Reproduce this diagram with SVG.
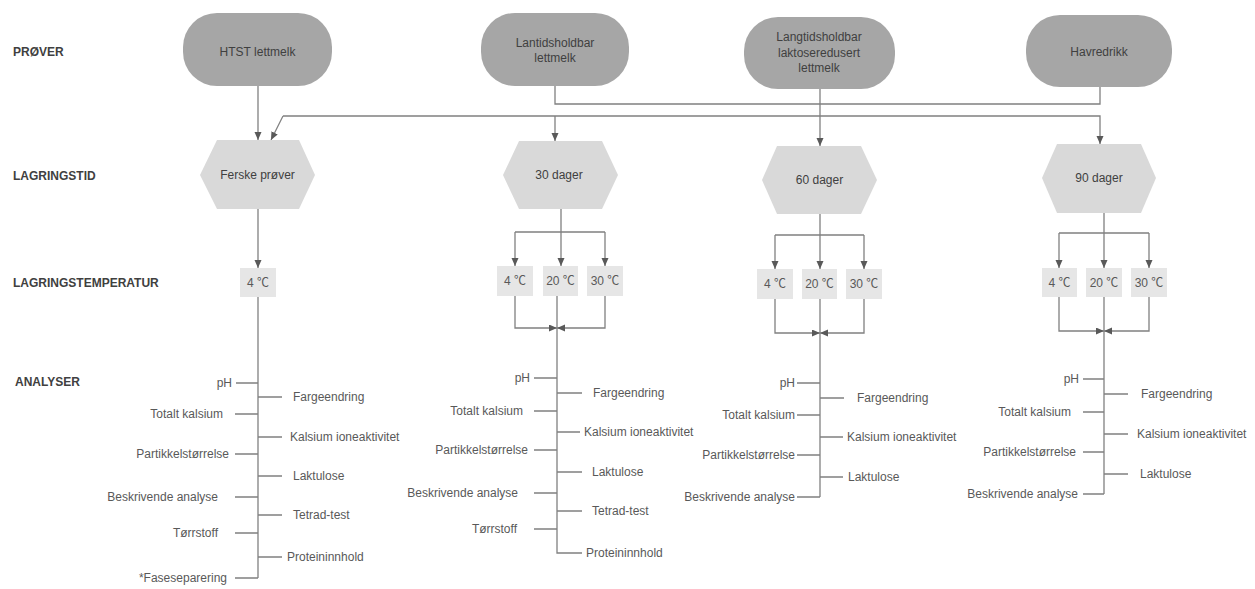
<svg xmlns="http://www.w3.org/2000/svg" width="1255" height="589" viewBox="0 0 1255 589">
<style>
text{font-family:"Liberation Sans",Arial,"Noto Sans CJK SC",sans-serif;font-size:12px}
.lbl{font-weight:bold;fill:#404040}
.pill{fill:#a6a6a6}
.hex{fill:#d9d9d9}
.box{fill:#e6e6e6}
.nt{fill:#404040;text-anchor:middle}
.tt{fill:#595959;text-anchor:middle}
.an{fill:#595959}
.r{text-anchor:end}
.c{fill:none;stroke:#808080;stroke-width:1.3}
.a{marker-end:url(#ah)}
</style>
<defs>
<marker id="ah" markerUnits="userSpaceOnUse" markerWidth="9" markerHeight="8" refX="8" refY="3.5" orient="auto">
<path d="M0,0 L8,3.5 L0,7 z" fill="#595959"/>
</marker>
</defs>
<rect width="1255" height="589" fill="#ffffff"/>

<g id="labels">
<text class="lbl" x="13" y="56">PRØVER</text>
<text class="lbl" x="13" y="180">LAGRINGSTID</text>
<text class="lbl" x="13" y="287">LAGRINGSTEMPERATUR</text>
<text class="lbl" x="15" y="386">ANALYSER</text>
</g>

<g id="connectors">
<path class="c a" d="M258,86 V140"/>
<path class="c a" d="M283,116 H1100 V144"/>
<path class="c a" d="M283,116 L271,140"/>
<path class="c" d="M555,86 V104 H1100 V87"/>
<path class="c a" d="M555,116 V141"/>
<path class="c a" d="M820,89 V146"/>
<path class="c a" d="M258,209 V268"/>
<path class="c" d="M258,297 V578"/>
<path class="c" d="M561,209 V232 M515,232 H605"/>
<path class="c a" d="M515,232 V266"/>
<path class="c a" d="M561,232 V266"/>
<path class="c a" d="M605,232 V266"/>
<path class="c a" d="M515,296 V328 H557"/>
<path class="c a" d="M605,296 V328 H557"/>
<path class="c" d="M557,296 V553 H582"/>
<path class="c" d="M820,214 V235 M775,235 H864"/>
<path class="c a" d="M775,235 V269"/>
<path class="c a" d="M820,235 V269"/>
<path class="c a" d="M864,235 V269"/>
<path class="c a" d="M775,299 V333 H820"/>
<path class="c a" d="M864,299 V333 H820"/>
<path class="c" d="M820,299 V497"/>
<path class="c" d="M1104,213 V233 M1059,233 H1149"/>
<path class="c a" d="M1059,233 V268"/>
<path class="c a" d="M1104,233 V268"/>
<path class="c a" d="M1149,233 V268"/>
<path class="c a" d="M1059,297 V331 H1104"/>
<path class="c a" d="M1149,297 V331 H1104"/>
<path class="c" d="M1104,297 V494"/>
<path class="c" d="M236,383 H258 M235,414 H258 M235,454 H258 M235,497 H258 M235,533 H258 M235,578 H258 M258,397 H282 M258,437 H282 M258,476 H282 M258,515 H282 M258,557 H282"/>
<path class="c" d="M534,378 H557 M534,411 H557 M534,450 H557 M534,493 H557 M534,529 H557 M557,393 H582 M557,432 H580 M557,472 H582 M557,511 H582"/>
<path class="c" d="M797,383 H820 M797,415 H820 M797,455 H820 M797,497 H820 M820,398 H844 M820,437 H843 M820,477 H843"/>
<path class="c" d="M1083,379 H1104 M1083,412 H1104 M1083,452 H1104 M1083,494 H1104 M1104,394 H1128 M1104,434 H1128 M1104,474 H1128"/>
</g>

<g id="node-htst">
<rect class="pill" x="183" y="13" width="149" height="73" rx="34"/>
<text class="nt" x="257.5" y="56">HTST lettmelk</text>
</g>
<g id="node-lantidsholdbar">
<rect class="pill" x="481" y="13" width="148" height="73" rx="34"/>
<text class="nt" x="555" y="47">Lantidsholdbar</text>
<text class="nt" x="555" y="62">lettmelk</text>
</g>
<g id="node-laktoseredusert">
<rect class="pill" x="744" y="17" width="151" height="72" rx="34"/>
<text class="nt" x="819" y="41">Langtidsholdbar</text>
<text class="nt" x="819" y="57">laktoseredusert</text>
<text class="nt" x="819" y="72">lettmelk</text>
</g>
<g id="node-havredrikk">
<rect class="pill" x="1026" y="15" width="146" height="72" rx="34"/>
<text class="nt" x="1099" y="56">Havredrikk</text>
</g>

<g id="node-ferske">
<polygon class="hex" points="200,175 217,140 299,140 315,175 299,209 217,209"/>
<text class="nt" x="257.5" y="179">Ferske prøver</text>
</g>
<g id="node-30dager">
<polygon class="hex" points="503,175 519,141 602,141 618,175 602,209 519,209"/>
<text class="nt" x="559" y="179">30 dager</text>
</g>
<g id="node-60dager">
<polygon class="hex" points="762,180 777,146 861,146 877,180 861,214 777,214"/>
<text class="nt" x="819.5" y="184">60 dager</text>
</g>
<g id="node-90dager">
<polygon class="hex" points="1042,178 1057,144 1141,144 1156,178 1141,213 1057,213"/>
<text class="nt" x="1099" y="182">90 dager</text>
</g>

<g id="temp-htst-4">
<rect class="box" x="240" y="268" width="36" height="29"/>
<text class="tt" x="258" y="287">4 ℃</text>
</g>
<g id="temp-30-4">
<rect class="box" x="497" y="266" width="36" height="30"/>
<text class="tt" x="515" y="285">4 ℃</text>
</g>
<g id="temp-30-20">
<rect class="box" x="543" y="266" width="35" height="30"/>
<text class="tt" x="560.5" y="285">20 ℃</text>
</g>
<g id="temp-30-30">
<rect class="box" x="587" y="266" width="36" height="30"/>
<text class="tt" x="605" y="285">30 ℃</text>
</g>
<g id="temp-60-4">
<rect class="box" x="757" y="269" width="36" height="30"/>
<text class="tt" x="775" y="288">4 ℃</text>
</g>
<g id="temp-60-20">
<rect class="box" x="802" y="269" width="35" height="30"/>
<text class="tt" x="819.5" y="288">20 ℃</text>
</g>
<g id="temp-60-30">
<rect class="box" x="846" y="269" width="36" height="30"/>
<text class="tt" x="864" y="288">30 ℃</text>
</g>
<g id="temp-90-4">
<rect class="box" x="1042" y="268" width="35" height="29"/>
<text class="tt" x="1059.5" y="287">4 ℃</text>
</g>
<g id="temp-90-20">
<rect class="box" x="1086" y="268" width="36" height="29"/>
<text class="tt" x="1104" y="287">20 ℃</text>
</g>
<g id="temp-90-30">
<rect class="box" x="1131" y="268" width="36" height="29"/>
<text class="tt" x="1149" y="287">30 ℃</text>
</g>

<g id="analyses-htst">
<text class="an r" x="232" y="387">pH</text>
<text class="an r" x="223" y="418">Totalt kalsium</text>
<text class="an r" x="229" y="458">Partikkelstørrelse</text>
<text class="an r" x="218" y="501">Beskrivende analyse</text>
<text class="an r" x="218" y="537">Tørrstoff</text>
<text class="an r" x="227" y="582">*Faseseparering</text>
<text class="an" x="293" y="401">Fargeendring</text>
<text class="an" x="290" y="441">Kalsium ioneaktivitet</text>
<text class="an" x="293" y="480">Laktulose</text>
<text class="an" x="293" y="519">Tetrad-test</text>
<text class="an" x="287" y="561">Proteininnhold</text>
</g>
<g id="analyses-30">
<text class="an r" x="530" y="382">pH</text>
<text class="an r" x="523" y="415">Totalt kalsium</text>
<text class="an r" x="528" y="454">Partikkelstørrelse</text>
<text class="an r" x="518" y="497">Beskrivende analyse</text>
<text class="an r" x="517" y="533">Tørrstoff</text>
<text class="an" x="593" y="397">Fargeendring</text>
<text class="an" x="584" y="436">Kalsium ioneaktivitet</text>
<text class="an" x="592" y="476">Laktulose</text>
<text class="an" x="592" y="515">Tetrad-test</text>
<text class="an" x="586" y="557">Proteininnhold</text>
</g>
<g id="analyses-60">
<text class="an r" x="795" y="387">pH</text>
<text class="an r" x="795" y="419">Totalt kalsium</text>
<text class="an r" x="795" y="459">Partikkelstørrelse</text>
<text class="an r" x="795" y="501">Beskrivende analyse</text>
<text class="an" x="857" y="402">Fargeendring</text>
<text class="an" x="847" y="441">Kalsium ioneaktivitet</text>
<text class="an" x="848" y="481">Laktulose</text>
</g>
<g id="analyses-90">
<text class="an r" x="1079" y="383">pH</text>
<text class="an r" x="1071" y="416">Totalt kalsium</text>
<text class="an r" x="1076" y="456">Partikkelstørrelse</text>
<text class="an r" x="1078" y="498">Beskrivende analyse</text>
<text class="an" x="1141" y="398">Fargeendring</text>
<text class="an" x="1137" y="438">Kalsium ioneaktivitet</text>
<text class="an" x="1140" y="478">Laktulose</text>
</g>
</svg>
